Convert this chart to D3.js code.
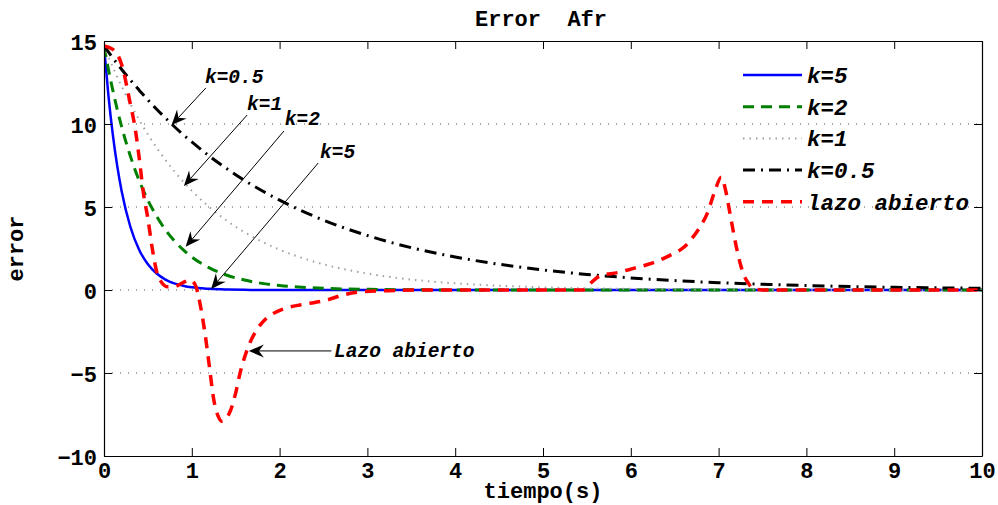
<!DOCTYPE html>
<html>
<head>
<meta charset="utf-8">
<script src="https://cdn.jsdelivr.net/npm/d3@7"></script>
<style>
  html, body { margin: 0; padding: 0; background: #fff; }
  svg { display: block; }
  text { font-family: "Liberation Mono", "Courier New", monospace; font-weight: bold; fill: #000; }
</style>
</head>
<body>
<svg id="chart" width="998" height="505"></svg>
<script>
// Time samples shared by the closed-loop responses (s)
const time = [0, 0.05, 0.1, 0.15, 0.2, 0.3, 0.4, 0.5, 0.6, 0.7, 0.8, 0.9, 1.0, 1.2, 1.4, 1.6, 1.8, 2.0,
  2.5, 3.0, 3.5, 4.0, 4.5, 5.0, 5.5, 6.0, 6.5, 7.0, 7.5, 8.0, 8.5, 9.0, 9.5, 10];

// Error of the closed-loop responses for each gain
const errK5 = [14.7, 11.74, 9.37, 7.49, 5.98, 3.81, 2.43, 1.55, 0.99, 0.63, 0.40, 0.26, 0.16, 0.07, 0.03, 0.01, 0, 0,
  0, 0, 0, 0, 0, 0, 0, 0, 0, 0, 0, 0, 0, 0, 0, 0];
const errK2 = [14.7, 13.30, 12.04, 10.89, 9.85, 8.07, 6.60, 5.41, 4.43, 3.62, 2.97, 2.43, 1.99, 1.33, 0.89, 0.60, 0.40, 0.27,
  0.10, 0.04, 0.01, 0.005, 0, 0, 0, 0, 0, 0, 0, 0, 0, 0, 0, 0];
const errK1 = [14.7, 14.05, 13.43, 12.84, 12.28, 11.22, 10.26, 9.37, 8.57, 7.83, 7.16, 6.54, 5.98, 4.99, 4.17, 3.48, 2.91, 2.43,
  1.55, 0.99, 0.63, 0.40, 0.26, 0.16, 0.10, 0.07, 0.04, 0.03, 0.02, 0.01, 0, 0, 0, 0];
const errK05 = [14.7, 14.34, 13.98, 13.64, 13.30, 12.65, 12.04, 11.45, 10.89, 10.36, 9.85, 9.37, 8.92, 8.07, 7.30, 6.60, 5.98, 5.41,
  4.21, 3.28, 2.55, 1.99, 1.55, 1.21, 0.94, 0.73, 0.57, 0.44, 0.35, 0.27, 0.21, 0.16, 0.13, 0.10];

// Open-loop response
const timeOpen = [0, 0.1, 0.2, 0.3, 0.35, 0.4, 0.45, 0.5, 0.55, 0.6, 0.65, 0.72, 0.8, 0.9, 0.98, 1.04, 1.1, 1.15, 1.2, 1.25,
  1.3, 1.34, 1.38, 1.43, 1.5, 1.55, 1.63, 1.74, 1.85, 1.97, 2.1, 2.23, 2.4, 2.54, 2.72, 2.95, 3.2, 3.6, 4.0, 4.5, 5.0,
  5.45, 5.55, 5.65, 5.85, 6.03, 6.2, 6.33, 6.45, 6.56, 6.65, 6.71, 6.8, 6.87, 6.96, 7.03, 7.08, 7.13, 7.21, 7.28, 7.34,
  7.39, 7.5, 8.0, 9.0, 10];
const errOpen = [14.7, 14.5, 13.6, 11.2, 9.9, 8.0, 5.8, 4.3, 2.5, 1.1, 0.5, 0.2, 0.2, 0.45, 0.6, 0.3, -1.0, -2.6, -4.6, -6.6,
  -7.6, -7.9, -7.8, -7.4, -6.2, -5.0, -3.6, -2.4, -1.7, -1.3, -1.05, -0.9, -0.75, -0.6, -0.3, -0.1, -0.05, 0, 0, 0, 0,
  0, 0.45, 0.85, 1.05, 1.3, 1.55, 1.8, 2.1, 2.4, 2.8, 3.2, 3.9, 4.6, 6.0, 6.8, 6.0, 4.6, 2.4, 1.0, 0.4,
  0.1, 0, 0, 0, 0];

// Axis ticks and labels
const xTicks = [0, 1, 2, 3, 4, 5, 6, 7, 8, 9, 10];
const yTicks = [-10, -5, 0, 5, 10, 15];
const yGrid = [-5, 0, 5, 10];
const legendLabels = ["k=5", "k=2", "k=1", "k=0.5", "lazo abierto"];

// Callout annotations: label anchor, line start and arrow tip in data units
const calloutText = ["k=0.5", "k=1", "k=2", "k=5", "Lazo abierto"];
const calloutLabelT = [1.15, 1.63, 2.06, 2.46, 2.62];
const calloutLabelV = [12.47, 10.84, 9.94, 7.95, -4.05];
const calloutFromT = [1.16, 1.63, 2.05, 2.44, 2.59];
const calloutFromV = [12.17, 10.54, 9.58, 7.65, -3.67];
const calloutTipT = [0.77, 0.91, 0.93, 1.22, 1.65];
const calloutTipV = [9.94, 6.27, 2.60, 0.06, -3.67];

const svg = d3.select("#chart");
const plot = { left: 104, right: 982, top: 41, bottom: 456 };

const x = d3.scaleLinear().domain([0, 10]).range([plot.left, plot.right]);
const y = d3.scaleLinear().domain([-10, 15]).range([plot.bottom, plot.top]);

svg.append("defs").append("clipPath").attr("id", "plotClip")
  .append("rect")
  .attr("x", plot.left).attr("y", plot.top)
  .attr("width", plot.right - plot.left).attr("height", plot.bottom - plot.top);

// Horizontal dotted grid
svg.append("g").selectAll("line").data(yGrid).join("line")
  .attr("x1", plot.left).attr("x2", plot.right)
  .attr("y1", d => y(d)).attr("y2", d => y(d))
  .attr("stroke", "#555").attr("stroke-width", 1)
  .attr("stroke-dasharray", "1,7");

// Series styles
const series = [
  { label: legendLabels[0], t: time, v: errK5, color: "#0000ff", width: 2.5, dash: null },
  { label: legendLabels[1], t: time, v: errK2, color: "#008000", width: 3, dash: "11,7" },
  { label: legendLabels[2], t: time, v: errK1, color: "#a0a0a0", width: 2, dash: "1.5,5" },
  { label: legendLabels[3], t: time, v: errK05, color: "#000000", width: 3, dash: "12,6,2,6" },
  { label: legendLabels[4], t: timeOpen, v: errOpen, color: "#ff0000", width: 3.5, dash: "11,8" }
];

const line = d3.line()
  .x(d => x(d[0]))
  .y(d => y(d[1]))
  .curve(d3.curveMonotoneX);

const lines = svg.append("g").attr("clip-path", "url(#plotClip)");
series.forEach(s => {
  lines.append("path")
    .datum(s.t.map((t, i) => [t, s.v[i]]))
    .attr("d", line)
    .attr("fill", "none")
    .attr("stroke", s.color)
    .attr("stroke-width", s.width)
    .attr("stroke-dasharray", s.dash)
    .attr("stroke-linejoin", "round");
});

// Axes with inward ticks on all four sides
const tickLen = 8;
const xAxisBottom = d3.axisBottom(x).tickValues(xTicks).tickSizeInner(-tickLen).tickSizeOuter(0);
const xAxisTop = d3.axisTop(x).tickValues(xTicks).tickSizeInner(-tickLen).tickSizeOuter(0).tickFormat("");
const yAxisLeft = d3.axisLeft(y).tickValues(yTicks).tickSizeInner(-tickLen).tickSizeOuter(0).tickPadding(7)
  .tickFormat(d => d < 0 ? "\u2212" + Math.abs(d) : String(d));
const yAxisRight = d3.axisRight(y).tickValues(yTicks).tickSizeInner(-tickLen).tickSizeOuter(0).tickFormat("");

function styleAxis(g) {
  g.select(".domain").attr("stroke", "#000").attr("stroke-width", 1.2);
  g.selectAll(".tick line").attr("stroke", "#000").attr("stroke-width", 1);
  g.selectAll(".tick text")
    .attr("font-family", "Liberation Mono, Courier New, monospace")
    .attr("font-weight", "bold")
    .attr("font-size", 22)
    .attr("fill", "#000");
}

svg.append("g").attr("transform", `translate(0,${plot.bottom})`).call(xAxisBottom).call(styleAxis)
  .selectAll(".tick text").attr("dy", 0).attr("y", 22);
svg.append("g").attr("transform", `translate(0,${plot.top})`).call(xAxisTop).call(styleAxis);
svg.append("g").attr("transform", `translate(${plot.left},0)`).call(yAxisLeft).call(styleAxis)
  .selectAll(".tick text").attr("dy", "0.38em");
svg.append("g").attr("transform", `translate(${plot.right},0)`).call(yAxisRight).call(styleAxis);

// Title and axis labels
svg.append("text")
  .attr("x", (plot.left + plot.right) / 2 - 2).attr("y", 26)
  .attr("text-anchor", "middle").attr("font-size", 22)
  .attr("xml:space", "preserve")
  .text("Error  Afr");

svg.append("text")
  .attr("x", (plot.left + plot.right) / 2).attr("y", 498)
  .attr("text-anchor", "middle").attr("font-size", 22)
  .text("tiempo(s)");

svg.append("text")
  .attr("transform", `translate(23,${(plot.top + plot.bottom) / 2}) rotate(-90)`)
  .attr("text-anchor", "middle").attr("font-size", 22)
  .text("error");

// Legend
const legend = svg.append("g");
const legendX0 = 743, legendX1 = 802, legendTextX = 807, legendTop = 75, legendStep = 31.7;
series.forEach((s, i) => {
  const yy = legendTop + i * legendStep;
  legend.append("line")
    .attr("x1", legendX0).attr("x2", legendX1)
    .attr("y1", yy).attr("y2", yy)
    .attr("stroke", s.color).attr("stroke-width", s.width)
    .attr("stroke-dasharray", s.dash);
  legend.append("text")
    .attr("x", legendTextX).attr("y", yy + 8)
    .attr("font-size", 22.5).attr("font-style", "italic")
    .text(s.label);
});

// Callouts with arrowheads
const callouts = svg.append("g");
calloutText.forEach((txt, i) => {
  const x0 = x(calloutFromT[i]), y0 = y(calloutFromV[i]);
  const x1 = x(calloutTipT[i]), y1 = y(calloutTipV[i]);
  const ang = Math.atan2(y1 - y0, x1 - x0);
  const L = 15, W = 6.5, notch = 10;
  const ux = Math.cos(ang), uy = Math.sin(ang);
  const px = -uy, py = ux;
  const bx = x1 - ux * L, by = y1 - uy * L;
  const nx = x1 - ux * notch, ny = y1 - uy * notch;
  callouts.append("line")
    .attr("x1", x0).attr("y1", y0).attr("x2", nx).attr("y2", ny)
    .attr("stroke", "#000").attr("stroke-width", 1);
  callouts.append("path")
    .attr("d", `M${x1},${y1} L${bx + px * W},${by + py * W} L${nx},${ny} L${bx - px * W},${by - py * W} Z`)
    .attr("fill", "#000");
  callouts.append("text")
    .attr("x", x(calloutLabelT[i])).attr("y", y(calloutLabelV[i]))
    .attr("font-size", 19.5).attr("font-style", "italic")
    .text(txt);
});
</script>
</body>
</html>
